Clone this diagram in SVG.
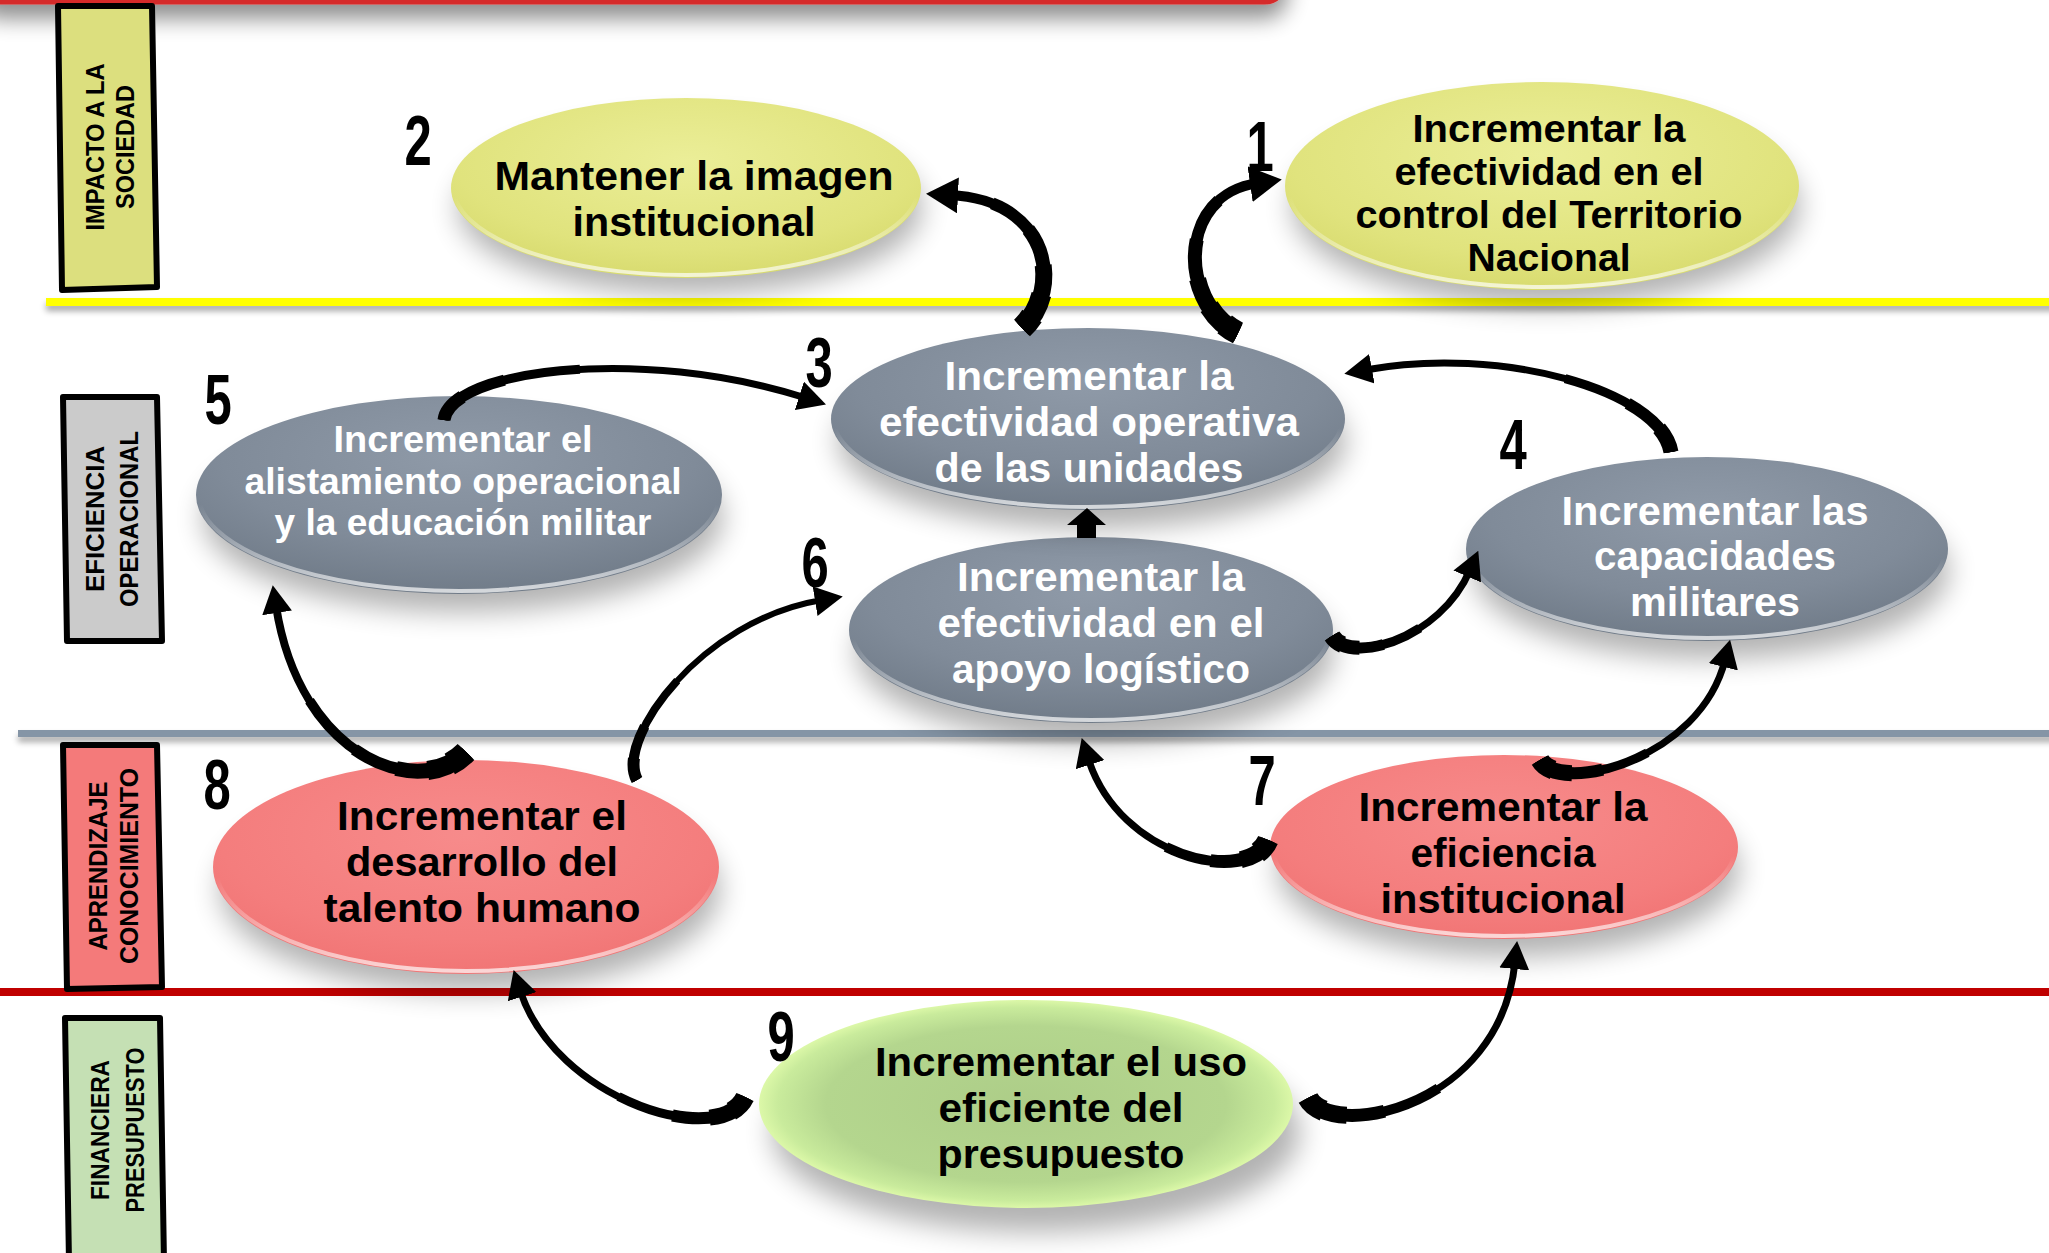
<svg xmlns="http://www.w3.org/2000/svg" xmlns:xlink="http://www.w3.org/1999/xlink" width="2049" height="1253" viewBox="0 0 2049 1253">
  <style>
    .t { font-family: "Liberation Sans", Arial, sans-serif; font-weight: 700; text-anchor: middle; }
    .w { fill: #ffffff; }
    .k { fill: #000000; }
    .num { font-family: "Liberation Sans", Arial, sans-serif; font-weight: 700; font-size: 70px; text-anchor: middle; fill: #000; }
    .lab { font-family: "Liberation Sans", Arial, sans-serif; font-weight: 700; font-size: 25px; text-anchor: middle; fill: #000; }
    .box { stroke: #000; stroke-width: 6; stroke-linejoin: round; }
    .sh { fill: #000; opacity: 0.3; filter: url(#blur); }
    .rim { fill: none; stroke-width: 4; }
    .arc { fill: none; stroke: #000; stroke-linecap: butt; }
  </style>
  <defs>
    <filter id="blur" x="-30%" y="-40%" width="160%" height="180%">
      <feGaussianBlur stdDeviation="14"/>
    </filter>
    <filter id="lineShadow" x="-5%" y="-200%" width="110%" height="600%">
      <feGaussianBlur in="SourceAlpha" stdDeviation="3"/>
      <feOffset dy="5"/>
      <feComponentTransfer><feFuncA type="linear" slope="0.35"/></feComponentTransfer>
      <feMerge><feMergeNode/><feMergeNode in="SourceGraphic"/></feMerge>
    </filter>
    <filter id="barShadow" x="-5%" y="-50%" width="110%" height="300%">
      <feGaussianBlur in="SourceAlpha" stdDeviation="11"/>
      <feOffset dy="14"/>
      <feComponentTransfer><feFuncA type="linear" slope="0.45"/></feComponentTransfer>
      <feMerge><feMergeNode/><feMergeNode in="SourceGraphic"/></feMerge>
    </filter>
    <radialGradient id="gGray" cx="0.5" cy="0.3" r="0.75">
      <stop offset="0" stop-color="#8f9aa8"/>
      <stop offset="0.6" stop-color="#808b99"/>
      <stop offset="1" stop-color="#6d7885"/>
    </radialGradient>
    <radialGradient id="gYel" cx="0.5" cy="0.35" r="0.75">
      <stop offset="0" stop-color="#ebee98"/>
      <stop offset="0.65" stop-color="#e0e37d"/>
      <stop offset="1" stop-color="#d3d666"/>
    </radialGradient>
    <radialGradient id="gRed" cx="0.5" cy="0.35" r="0.75">
      <stop offset="0" stop-color="#f78b8b"/>
      <stop offset="0.65" stop-color="#f47d7d"/>
      <stop offset="1" stop-color="#ef7070"/>
    </radialGradient>
    <radialGradient id="gGrn" cx="0.5" cy="0.5" r="0.5">
      <stop offset="0" stop-color="#adcd88"/>
      <stop offset="0.75" stop-color="#b4d68e"/>
      <stop offset="0.93" stop-color="#c9eb9c"/>
      <stop offset="1" stop-color="#dcf8a8"/>
    </radialGradient>
    <linearGradient id="rimW" x1="0" y1="0" x2="0" y2="1">
      <stop offset="0" stop-color="#ffffff" stop-opacity="0"/>
      <stop offset="0.55" stop-color="#ffffff" stop-opacity="0"/>
      <stop offset="1" stop-color="#ffffff" stop-opacity="0.7"/>
    </linearGradient>
    <marker id="headL" viewBox="0 0 32 36" markerWidth="32" markerHeight="36" refX="8" refY="18" orient="auto" markerUnits="userSpaceOnUse">
      <path d="M0,0 L32,18 L0,36 Z" fill="#000"/>
    </marker>
    <marker id="headS" viewBox="0 0 28 30" markerWidth="28" markerHeight="30" refX="7" refY="15" orient="auto" markerUnits="userSpaceOnUse">
      <path d="M0,0 L28,15 L0,30 Z" fill="#000"/>
    </marker>
    <!-- connector centre lines -->
    <path id="pA" pathLength="100" d="M1022,328 C1062,290 1052,200 950,195"/>
    <path id="pB" pathLength="100" d="M1238,333 C1180,305 1175,195 1258,183"/>
    <path id="pC" pathLength="100" d="M444,420 C450,370 640,345 806,398"/>
    <path id="pD" pathLength="100" d="M1671,452 C1660,390 1500,345 1365,370"/>
    <path id="pF" pathLength="100" d="M1332,636 C1350,665 1440,640 1470,570"/>
    <path id="pG" pathLength="100" d="M466,752 C420,800 300,760 276,606"/>
    <path id="pH" pathLength="100" d="M637,780 C615,740 700,620 822,600"/>
    <path id="pI" pathLength="100" d="M1268,840 C1250,885 1120,860 1088,758"/>
    <path id="pJ" pathLength="100" d="M1540,760 C1560,795 1700,760 1725,660"/>
    <path id="pK" pathLength="100" d="M745,1097 C720,1150 555,1100 520,990"/>
    <path id="pL" pathLength="100" d="M1308,1098 C1330,1140 1500,1110 1515,962"/>
  </defs>

  <rect x="0" y="0" width="2049" height="1253" fill="#ffffff"/>

  <!-- title bar edge -->
  <rect x="-20" y="-60" width="1305" height="62" rx="20" fill="#ffffff" stroke="#d52b2b" stroke-width="5" filter="url(#barShadow)"/>

  <!-- perspective separators -->
  <g id="separators">
    <rect x="46" y="298" width="2010" height="8" fill="#ffff00" filter="url(#lineShadow)"/>
    <rect x="18" y="730" width="2040" height="7" fill="#8595a6" filter="url(#lineShadow)"/>
    <rect x="-5" y="988" width="2060" height="8" fill="#c00000"/>
  </g>

  <!-- perspective labels -->
  <g id="perspectives">
    <g id="p-impacto">
      <polygon class="box" points="58,6 152,6 157,287 62,290" fill="#dcdf7e"/>
      <text class="lab" transform="translate(109,147) rotate(-90)"><tspan x="0" y="-5" textLength="167" lengthAdjust="spacingAndGlyphs">IMPACTO A LA</tspan><tspan x="0" y="25" textLength="124" lengthAdjust="spacingAndGlyphs">SOCIEDAD</tspan></text>
    </g>
    <g id="p-eficiencia">
      <polygon class="box" points="63,397 157,397 162,641 67,641" fill="#cbcbcb"/>
      <text class="lab" transform="translate(112,519) rotate(-90)"><tspan x="0" y="-8" textLength="146" lengthAdjust="spacingAndGlyphs">EFICIENCIA</tspan><tspan x="0" y="26" textLength="176" lengthAdjust="spacingAndGlyphs">OPERACIONAL</tspan></text>
    </g>
    <g id="p-aprendizaje">
      <polygon class="box" points="63,745 157,745 162,987 67,989" fill="#f47a7a"/>
      <text class="lab" transform="translate(113,866) rotate(-90)"><tspan x="0" y="-6" textLength="169" lengthAdjust="spacingAndGlyphs">APRENDIZAJE</tspan><tspan x="0" y="25" textLength="196" lengthAdjust="spacingAndGlyphs">CONOCIMIENTO</tspan></text>
    </g>
    <g id="p-financiera">
      <polygon class="box" points="65,1018 160,1018 164,1262 69,1262" fill="#c5e0b4"/>
      <text class="lab" transform="translate(117,1130) rotate(-90)"><tspan x="0" y="-8" textLength="140" lengthAdjust="spacingAndGlyphs">FINANCIERA</tspan><tspan x="0" y="27" textLength="165" lengthAdjust="spacingAndGlyphs">PRESUPUESTO</tspan></text>
    </g>
  </g>

  <!-- objectives -->
  <g id="node-2">
    <ellipse class="sh" cx="690" cy="208" rx="232" ry="86"/>
    <ellipse cx="686" cy="188" rx="235" ry="90" fill="url(#gYel)"/>
    <ellipse class="rim" cx="686" cy="188" rx="232" ry="87" stroke="url(#rimW)"/>
    <text class="t k" font-size="41"><tspan x="694" y="190" textLength="399" lengthAdjust="spacingAndGlyphs">Mantener la imagen</tspan><tspan x="694" y="236" textLength="243" lengthAdjust="spacingAndGlyphs">institucional</tspan></text>
  </g>
  <g id="node-1">
    <ellipse class="sh" cx="1546" cy="206" rx="254" ry="100"/>
    <ellipse cx="1542" cy="186" rx="257" ry="104" fill="url(#gYel)"/>
    <ellipse class="rim" cx="1542" cy="186" rx="254" ry="101" stroke="url(#rimW)"/>
    <text class="t k" font-size="38"><tspan x="1549" y="142" textLength="273" lengthAdjust="spacingAndGlyphs">Incrementar la</tspan><tspan x="1549" y="185" textLength="309" lengthAdjust="spacingAndGlyphs">efectividad en el</tspan><tspan x="1549" y="228" textLength="387" lengthAdjust="spacingAndGlyphs">control del Territorio</tspan><tspan x="1549" y="271" textLength="163" lengthAdjust="spacingAndGlyphs">Nacional</tspan></text>
  </g>
  <g id="node-5">
    <ellipse class="sh" cx="463" cy="517" rx="260" ry="95"/>
    <ellipse cx="459" cy="495" rx="263" ry="99" fill="url(#gGray)"/>
    <ellipse class="rim" cx="459" cy="495" rx="260" ry="96" stroke="url(#rimW)"/>
    <text class="t w" font-size="36"><tspan x="463" y="452" textLength="259" lengthAdjust="spacingAndGlyphs">Incrementar el</tspan><tspan x="463" y="494" textLength="437" lengthAdjust="spacingAndGlyphs">alistamiento operacional</tspan><tspan x="463" y="535" textLength="377" lengthAdjust="spacingAndGlyphs">y la educación militar</tspan></text>
  </g>
  <g id="node-6">
    <ellipse class="sh" cx="1095" cy="652" rx="239" ry="90"/>
    <ellipse cx="1091" cy="630" rx="242" ry="93" fill="url(#gGray)"/>
    <ellipse class="rim" cx="1091" cy="630" rx="239" ry="90" stroke="url(#rimW)"/>
    <text class="t w" font-size="41"><tspan x="1101" y="591" textLength="288" lengthAdjust="spacingAndGlyphs">Incrementar la</tspan><tspan x="1101" y="637" textLength="327" lengthAdjust="spacingAndGlyphs">efectividad en el</tspan><tspan x="1101" y="683" textLength="298" lengthAdjust="spacingAndGlyphs">apoyo logístico</tspan></text>
  </g>
  <g id="node-3">
    <ellipse class="sh" cx="1092" cy="441" rx="254" ry="88"/>
    <ellipse cx="1088" cy="419" rx="257" ry="91" fill="url(#gGray)"/>
    <ellipse class="rim" cx="1088" cy="419" rx="254" ry="88" stroke="url(#rimW)"/>
    <text class="t w" font-size="41"><tspan x="1089" y="390" textLength="289" lengthAdjust="spacingAndGlyphs">Incrementar la</tspan><tspan x="1089" y="436" textLength="420" lengthAdjust="spacingAndGlyphs">efectividad operativa</tspan><tspan x="1089" y="482" textLength="309" lengthAdjust="spacingAndGlyphs">de las unidades</tspan></text>
  </g>
  <g id="node-4">
    <ellipse class="sh" cx="1711" cy="571" rx="238" ry="88"/>
    <ellipse cx="1707" cy="549" rx="241" ry="92" fill="url(#gGray)"/>
    <ellipse class="rim" cx="1707" cy="549" rx="238" ry="89" stroke="url(#rimW)"/>
    <text class="t w" font-size="40"><tspan x="1715" y="525" textLength="307" lengthAdjust="spacingAndGlyphs">Incrementar las</tspan><tspan x="1715" y="570" textLength="242" lengthAdjust="spacingAndGlyphs">capacidades</tspan><tspan x="1715" y="616" textLength="170" lengthAdjust="spacingAndGlyphs">militares</tspan></text>
  </g>
  <g id="node-8">
    <ellipse class="sh" cx="470" cy="889" rx="250" ry="103"/>
    <ellipse cx="466" cy="867" rx="253" ry="107" fill="url(#gRed)"/>
    <ellipse class="rim" cx="466" cy="867" rx="250" ry="104" stroke="url(#rimW)"/>
    <text class="t k" font-size="41"><tspan x="482" y="830" textLength="290" lengthAdjust="spacingAndGlyphs">Incrementar el</tspan><tspan x="482" y="876" textLength="272" lengthAdjust="spacingAndGlyphs">desarrollo del</tspan><tspan x="482" y="922" textLength="317" lengthAdjust="spacingAndGlyphs">talento humano</tspan></text>
  </g>
  <g id="node-7">
    <ellipse class="sh" cx="1508" cy="869" rx="231" ry="88"/>
    <ellipse cx="1504" cy="847" rx="234" ry="92" fill="url(#gRed)"/>
    <ellipse class="rim" cx="1504" cy="847" rx="231" ry="89" stroke="url(#rimW)"/>
    <text class="t k" font-size="41"><tspan x="1503" y="821" textLength="289" lengthAdjust="spacingAndGlyphs">Incrementar la</tspan><tspan x="1503" y="867" textLength="185" lengthAdjust="spacingAndGlyphs">eficiencia</tspan><tspan x="1503" y="913" textLength="245" lengthAdjust="spacingAndGlyphs">institucional</tspan></text>
  </g>
  <g id="node-9">
    <ellipse class="sh" cx="1036" cy="1132" rx="264" ry="100"/>
    <ellipse cx="1026" cy="1104" rx="267" ry="104" fill="url(#gGrn)"/>
    <text class="t k" font-size="41"><tspan x="1061" y="1076" textLength="372" lengthAdjust="spacingAndGlyphs">Incrementar el uso</tspan><tspan x="1061" y="1122" textLength="245" lengthAdjust="spacingAndGlyphs">eficiente del</tspan><tspan x="1061" y="1168" textLength="247" lengthAdjust="spacingAndGlyphs">presupuesto</tspan></text>
  </g>

  <!-- objective numbers -->
  <g id="numbers">
    <text class="num" transform="translate(1260,171) scale(0.7,1)">1</text>
    <text class="num" transform="translate(418,165) scale(0.7,1)">2</text>
    <text class="num" transform="translate(819,387) scale(0.7,1)">3</text>
    <text class="num" transform="translate(1513,469) scale(0.7,1)">4</text>
    <text class="num" transform="translate(218,424) scale(0.7,1)">5</text>
    <text class="num" transform="translate(815,587) scale(0.7,1)">6</text>
    <text class="num" transform="translate(1262,805) scale(0.7,1)">7</text>
    <text class="num" transform="translate(217,809) scale(0.7,1)">8</text>
    <text class="num" transform="translate(781,1061) scale(0.7,1)">9</text>
  </g>

  <!-- cause-effect connectors: tapered curved arrows built from stacked stroke segments -->
  <g id="connectors">
    <g id="c-3-2">
      <use xlink:href="#pA" class="arc" stroke-width="23" stroke-dasharray="8 200"/>
      <use xlink:href="#pA" class="arc" stroke-width="20" stroke-dasharray="20 200"/>
      <use xlink:href="#pA" class="arc" stroke-width="17" stroke-dasharray="35 200"/>
      <use xlink:href="#pA" class="arc" stroke-width="14" stroke-dasharray="55 200"/>
      <use xlink:href="#pA" class="arc" stroke-width="12" stroke-dasharray="78 200"/>
      <use xlink:href="#pA" class="arc" stroke-width="10" marker-end="url(#headL)"/>
    </g>
    <g id="c-3-1">
      <use xlink:href="#pB" class="arc" stroke-width="23" stroke-dasharray="8 200"/>
      <use xlink:href="#pB" class="arc" stroke-width="20" stroke-dasharray="20 200"/>
      <use xlink:href="#pB" class="arc" stroke-width="17" stroke-dasharray="35 200"/>
      <use xlink:href="#pB" class="arc" stroke-width="14" stroke-dasharray="55 200"/>
      <use xlink:href="#pB" class="arc" stroke-width="12" stroke-dasharray="78 200"/>
      <use xlink:href="#pB" class="arc" stroke-width="10" marker-end="url(#headL)"/>
    </g>
    <g id="c-5-3">
      <use xlink:href="#pC" class="arc" stroke-width="13" stroke-dasharray="8 200"/>
      <use xlink:href="#pC" class="arc" stroke-width="11" stroke-dasharray="20 200"/>
      <use xlink:href="#pC" class="arc" stroke-width="9" stroke-dasharray="40 200"/>
      <use xlink:href="#pC" class="arc" stroke-width="7" marker-end="url(#headS)"/>
    </g>
    <g id="c-4-3">
      <use xlink:href="#pD" class="arc" stroke-width="15" stroke-dasharray="8 200"/>
      <use xlink:href="#pD" class="arc" stroke-width="12" stroke-dasharray="20 200"/>
      <use xlink:href="#pD" class="arc" stroke-width="9" stroke-dasharray="40 200"/>
      <use xlink:href="#pD" class="arc" stroke-width="7" marker-end="url(#headS)"/>
    </g>
    <g id="c-6-3">
      <path d="M1077,538 L1077,525 L1067,525 L1087,508 L1106,525 L1096,525 L1096,538 Z" fill="#000"/>
    </g>
    <g id="c-6-4">
      <use xlink:href="#pF" class="arc" stroke-width="17" stroke-dasharray="8 200"/>
      <use xlink:href="#pF" class="arc" stroke-width="14" stroke-dasharray="18 200"/>
      <use xlink:href="#pF" class="arc" stroke-width="11" stroke-dasharray="32 200"/>
      <use xlink:href="#pF" class="arc" stroke-width="9" stroke-dasharray="55 200"/>
      <use xlink:href="#pF" class="arc" stroke-width="7" marker-end="url(#headS)"/>
    </g>
    <g id="c-8-5">
      <use xlink:href="#pG" class="arc" stroke-width="23" stroke-dasharray="7 200"/>
      <use xlink:href="#pG" class="arc" stroke-width="19" stroke-dasharray="15 200"/>
      <use xlink:href="#pG" class="arc" stroke-width="15" stroke-dasharray="26 200"/>
      <use xlink:href="#pG" class="arc" stroke-width="12" stroke-dasharray="42 200"/>
      <use xlink:href="#pG" class="arc" stroke-width="10" stroke-dasharray="65 200"/>
      <use xlink:href="#pG" class="arc" stroke-width="8" marker-end="url(#headS)"/>
    </g>
    <g id="c-8-6">
      <use xlink:href="#pH" class="arc" stroke-width="12" stroke-dasharray="8 200"/>
      <use xlink:href="#pH" class="arc" stroke-width="10" stroke-dasharray="20 200"/>
      <use xlink:href="#pH" class="arc" stroke-width="8" stroke-dasharray="40 200"/>
      <use xlink:href="#pH" class="arc" stroke-width="6" marker-end="url(#headS)"/>
    </g>
    <g id="c-7-6">
      <use xlink:href="#pI" class="arc" stroke-width="21" stroke-dasharray="7 200"/>
      <use xlink:href="#pI" class="arc" stroke-width="17" stroke-dasharray="15 200"/>
      <use xlink:href="#pI" class="arc" stroke-width="13" stroke-dasharray="28 200"/>
      <use xlink:href="#pI" class="arc" stroke-width="10" stroke-dasharray="48 200"/>
      <use xlink:href="#pI" class="arc" stroke-width="7" marker-end="url(#headS)"/>
    </g>
    <g id="c-7-4">
      <use xlink:href="#pJ" class="arc" stroke-width="19" stroke-dasharray="7 200"/>
      <use xlink:href="#pJ" class="arc" stroke-width="16" stroke-dasharray="15 200"/>
      <use xlink:href="#pJ" class="arc" stroke-width="12" stroke-dasharray="28 200"/>
      <use xlink:href="#pJ" class="arc" stroke-width="9" stroke-dasharray="48 200"/>
      <use xlink:href="#pJ" class="arc" stroke-width="7" marker-end="url(#headS)"/>
    </g>
    <g id="c-9-8">
      <use xlink:href="#pK" class="arc" stroke-width="19" stroke-dasharray="7 200"/>
      <use xlink:href="#pK" class="arc" stroke-width="16" stroke-dasharray="15 200"/>
      <use xlink:href="#pK" class="arc" stroke-width="12" stroke-dasharray="28 200"/>
      <use xlink:href="#pK" class="arc" stroke-width="9" stroke-dasharray="48 200"/>
      <use xlink:href="#pK" class="arc" stroke-width="7" marker-end="url(#headS)"/>
    </g>
    <g id="c-9-7">
      <use xlink:href="#pL" class="arc" stroke-width="21" stroke-dasharray="7 200"/>
      <use xlink:href="#pL" class="arc" stroke-width="17" stroke-dasharray="15 200"/>
      <use xlink:href="#pL" class="arc" stroke-width="13" stroke-dasharray="28 200"/>
      <use xlink:href="#pL" class="arc" stroke-width="10" stroke-dasharray="48 200"/>
      <use xlink:href="#pL" class="arc" stroke-width="7" marker-end="url(#headS)"/>
    </g>
  </g>
</svg>
